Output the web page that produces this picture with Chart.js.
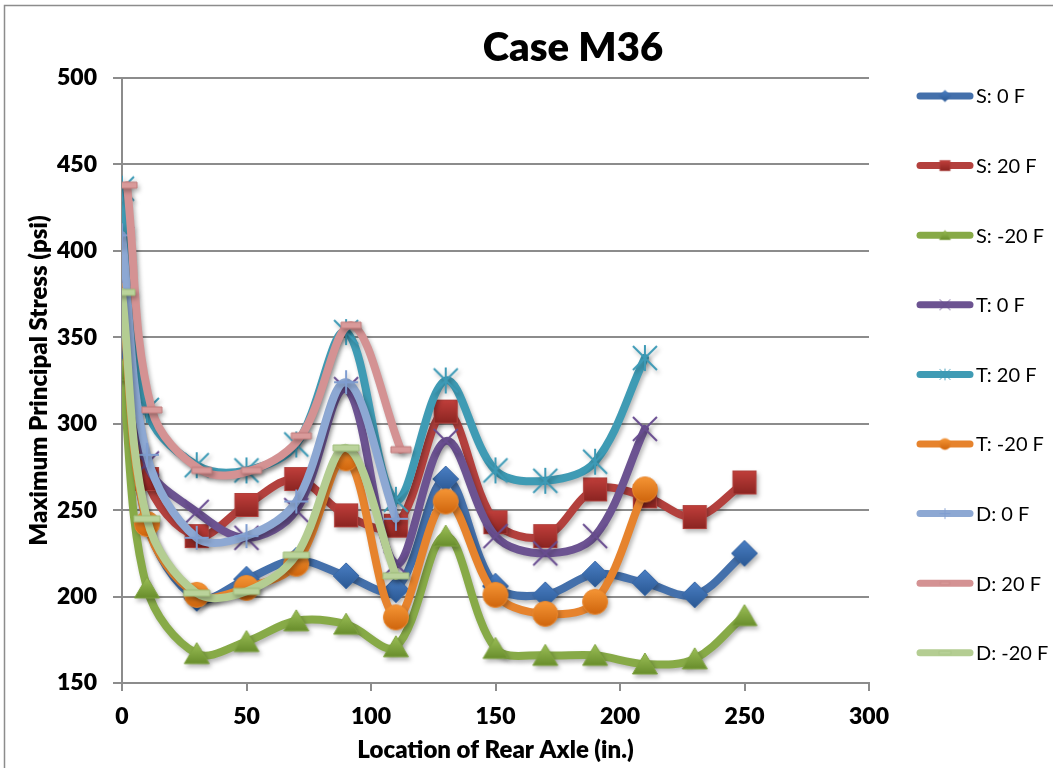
<!DOCTYPE html>
<html>
<head>
<meta charset="utf-8">
<script src="https://cdn.jsdelivr.net/npm/chart.js@4.4.1/dist/chart.umd.min.js"></script>
<style>
  html, body { margin: 0; padding: 0; background: #fff; overflow: hidden; }
  #wrap { width: 1053px; height: 768px; position: relative; }
</style>
</head>
<body>
<div id="wrap"><canvas id="c" width="1053" height="768"></canvas></div>
<script>
// ---- chart text ----
const chartTitle = 'Case M36';
const xAxisTitle = 'Location of Rear Axle (in.)';
const yAxisTitle = 'Maximum Principal Stress (psi)';
const seriesNames = ['S: 0 F', 'S: 20 F', 'S: -20 F', 'T: 0 F', 'T: 20 F', 'T: -20 F', 'D: 0 F', 'D: 20 F', 'D: -20 F'];

// ---- axis ranges ----
const xMin = 0, xMax = 300, xStep = 50;
const yMin = 150, yMax = 500, yStep = 50;

// ---- rear axle locations (in.) ----
const xS   = [0, 10, 30, 50, 70, 90, 110, 130, 150, 170, 190, 210, 230, 250];
const xT   = [0, 10, 30, 50, 70, 90, 110, 130, 150, 170, 190, 210];
const xD   = [0, 10, 30, 50, 70, 90, 110];
const xD20 = [2, 12, 32, 52, 72, 92, 112];

// ---- maximum principal stress (psi) ----
const s0   = [363, 243, 199, 210, 221, 212, 204, 268, 206, 201, 213, 208, 201, 225];
const s20  = [393, 268, 235, 253, 268, 247, 241, 307, 243, 235, 262, 258, 246, 266];
const sM20 = [331, 205, 167, 174, 186, 184, 171, 235, 170, 166, 166, 161, 164, 189];
const t0   = [407, 277, 249, 234, 250, 320, 219, 290, 235, 225, 235, 297];
const t20  = [436, 308, 276, 273, 288, 353, 256, 325, 273, 267, 278, 338];
const tM20 = [374, 242, 201, 205, 219, 280, 188, 255, 201, 190, 197, 262];
const d0   = [409, 282, 234, 235, 255, 324, 245];
const d20  = [438, 308, 273, 273, 293, 357, 285];
const dM20 = [376, 245, 202, 203, 224, 286, 212];

const FONT = 'Lato, "Liberation Sans", "DejaVu Sans", sans-serif';
const HEAVY = 800;

// ---- marker glyphs drawn onto small canvases ----
function makeMarker(kind, scale) {
  const s = scale || 1;
  const size = Math.ceil(32 * s);
  const c = document.createElement('canvas');
  c.width = c.height = size;
  const g = c.getContext('2d');
  g.translate(size / 2, size / 2);
  g.scale(s, s);
  const grad = (top, bottom, h) => {
    const lg = g.createLinearGradient(0, -h, 0, h);
    lg.addColorStop(0, top); lg.addColorStop(1, bottom);
    return lg;
  };
  g.lineJoin = 'miter';
  switch (kind) {
    case 'diamond':
      g.beginPath(); g.moveTo(0, -13); g.lineTo(13, 0); g.lineTo(0, 13); g.lineTo(-13, 0); g.closePath();
      g.fillStyle = grad('#4a7fc4', '#2a5893', 13); g.fill();
      g.strokeStyle = '#3a68a6'; g.lineWidth = 1; g.stroke();
      break;
    case 'square':
      g.beginPath(); g.rect(-11.5, -11.5, 23, 23);
      g.fillStyle = grad('#c13f3b', '#8a2421', 12); g.fill();
      g.strokeStyle = '#b0403c'; g.lineWidth = 1.2; g.stroke();
      break;
    case 'triangle':
      g.beginPath(); g.moveTo(0, -11); g.lineTo(12.5, 10); g.lineTo(-12.5, 10); g.closePath();
      g.fillStyle = grad('#9cbf57', '#668b2a', 11); g.fill();
      g.strokeStyle = '#7fa340'; g.lineWidth = 1; g.stroke();
      break;
    case 'circle':
      g.beginPath(); g.arc(0, 0, 12.5, 0, Math.PI * 2);
      g.fillStyle = grad('#f59535', '#cf650d', 12.5); g.fill();
      g.strokeStyle = '#e8872f'; g.lineWidth = 1; g.stroke();
      break;
    case 'cross':
      g.beginPath(); g.moveTo(-12, -12); g.lineTo(12, 12); g.moveTo(12, -12); g.lineTo(-12, 12);
      g.strokeStyle = '#684c90'; g.lineWidth = 2; g.stroke();
      break;
    case 'star':
      g.beginPath(); g.moveTo(-12, -12); g.lineTo(12, 12); g.moveTo(12, -12); g.lineTo(-12, 12);
      g.moveTo(0, -13); g.lineTo(0, 13);
      g.strokeStyle = '#3d9ab6'; g.lineWidth = 2; g.stroke();
      break;
    case 'plus':
      g.beginPath(); g.moveTo(0, -12); g.lineTo(0, 12); g.moveTo(-12, 0); g.lineTo(12, 0);
      g.strokeStyle = '#7f9dd0'; g.lineWidth = 2; g.stroke();
      break;
    case 'dashPink':
      g.beginPath(); g.rect(-10, -3, 20, 6);
      g.fillStyle = '#d99a9a'; g.fill();
      g.strokeStyle = '#c27d7d'; g.lineWidth = 1; g.stroke();
      break;
    case 'dashGreen':
      g.beginPath(); g.rect(-13, -3, 26, 6);
      g.fillStyle = '#bad39b'; g.fill();
      g.strokeStyle = '#9fbd7b'; g.lineWidth = 1; g.stroke();
      break;
  }
  return c;
}

const styleInfo = [
  { color: '#4470ab', marker: 'diamond' },
  { color: '#b3403d', marker: 'square' },
  { color: '#87aa47', marker: 'triangle' },
  { color: '#6c5391', marker: 'cross' },
  { color: '#3f9bb4', marker: 'star' },
  { color: '#e6832d', marker: 'circle' },
  { color: '#8da8d3', marker: 'plus' },
  { color: '#d49293', marker: 'dashPink' },
  { color: '#b4cd92', marker: 'dashGreen' }
];

const xsList = [xS, xS, xS, xT, xT, xT, xD, xD20, xD];
const ysList = [s0, s20, sM20, t0, t20, tM20, d0, d20, dM20];

const datasets = seriesNames.map((name, i) => ({
  label: name,
  data: xsList[i].map((x, k) => ({ x: x, y: ysList[i][k] })),
  borderColor: styleInfo[i].color,
  backgroundColor: styleInfo[i].color,
  borderWidth: 8,
  borderCapStyle: 'round',
  borderJoinStyle: 'round',
  tension: 0.35,
  fill: false,
  pointStyle: makeMarker(styleInfo[i].marker, 1),
  pointRadius: 12,
  pointHoverRadius: 12,
  order: seriesNames.length - i
}));

const legendMarkers = styleInfo.map(s => makeMarker(s.marker, 0.45));

// white page and outer frame
const framePlugin = {
  id: 'frame',
  beforeDraw(chart) {
    const ctx = chart.ctx;
    ctx.save();
    ctx.fillStyle = '#fff';
    ctx.fillRect(0, 0, chart.width, chart.height);
    ctx.strokeStyle = '#8c8c8c';
    ctx.lineWidth = 1.5;
    ctx.strokeRect(4.5, 5.5, chart.width + 20, chart.height + 20);
    ctx.restore();
  }
};

// soft drop shadow under each series
const shadowPlugin = {
  id: 'seriesShadow',
  beforeDatasetDraw(chart) {
    const ctx = chart.ctx;
    ctx.save();
    ctx.shadowColor = 'rgba(0,0,0,0.28)';
    ctx.shadowBlur = 4;
    ctx.shadowOffsetX = 2;
    ctx.shadowOffsetY = 3;
  },
  afterDatasetDraw(chart) {
    chart.ctx.restore();
  }
};

// chart title and legend on the right
const decorPlugin = {
  id: 'decor',
  afterDraw(chart) {
    const ctx = chart.ctx;
    ctx.save();
    ctx.fillStyle = '#000';
    ctx.textAlign = 'center';
    ctx.textBaseline = 'middle';
    ctx.font = HEAVY + ' 40px ' + FONT;
    ctx.fillText(chartTitle, 573, 48);

    ctx.font = '20px ' + FONT;
    ctx.textAlign = 'left';
    seriesNames.forEach((name, i) => {
      const y = 96 + i * 69.6;
      ctx.beginPath();
      ctx.moveTo(920, y);
      ctx.lineTo(970, y);
      ctx.strokeStyle = styleInfo[i].color;
      ctx.lineWidth = 7;
      ctx.lineCap = 'round';
      ctx.stroke();
      const m = legendMarkers[i];
      ctx.drawImage(m, 945 - m.width / 2, y - m.height / 2);
      ctx.fillStyle = '#000';
      ctx.fillText(name, 976, y + 1);
    });
    ctx.restore();
  }
};

const GRID = '#8c8c8c';

new Chart(document.getElementById('c'), {
  type: 'line',
  data: { datasets: datasets },
  options: {
    responsive: false,
    animation: false,
    events: [],
    layout: { padding: { left: 0, top: 78, right: 184, bottom: 0 } },
    plugins: {
      legend: { display: false },
      title: { display: false },
      tooltip: { enabled: false }
    },
    scales: {
      x: {
        type: 'linear',
        min: xMin, max: xMax,
        ticks: { stepSize: xStep, color: '#000', padding: 12, font: { family: FONT, size: 23, weight: HEAVY } },
        grid: { drawOnChartArea: false, drawTicks: true, tickLength: 8, color: GRID, lineWidth: 2 },
        border: { display: true, color: GRID, width: 2 },
        title: { display: true, text: xAxisTitle, color: '#000', padding: 3, font: { family: FONT, size: 24, weight: HEAVY } },
        afterFit(scale) { scale.height = 85; }
      },
      y: {
        type: 'linear',
        min: yMin, max: yMax,
        ticks: { stepSize: yStep, color: '#000', padding: 16, font: { family: FONT, size: 23, weight: HEAVY } },
        grid: { drawOnChartArea: true, drawTicks: true, tickLength: 9, color: GRID, lineWidth: 2 },
        border: { display: true, color: GRID, width: 2 },
        title: { display: true, text: yAxisTitle, color: '#000', padding: 25, font: { family: FONT, size: 24, weight: HEAVY } },
        afterFit(scale) { scale.width = 122; }
      }
    }
  },
  plugins: [framePlugin, shadowPlugin, decorPlugin]
});
</script>
</body>
</html>
